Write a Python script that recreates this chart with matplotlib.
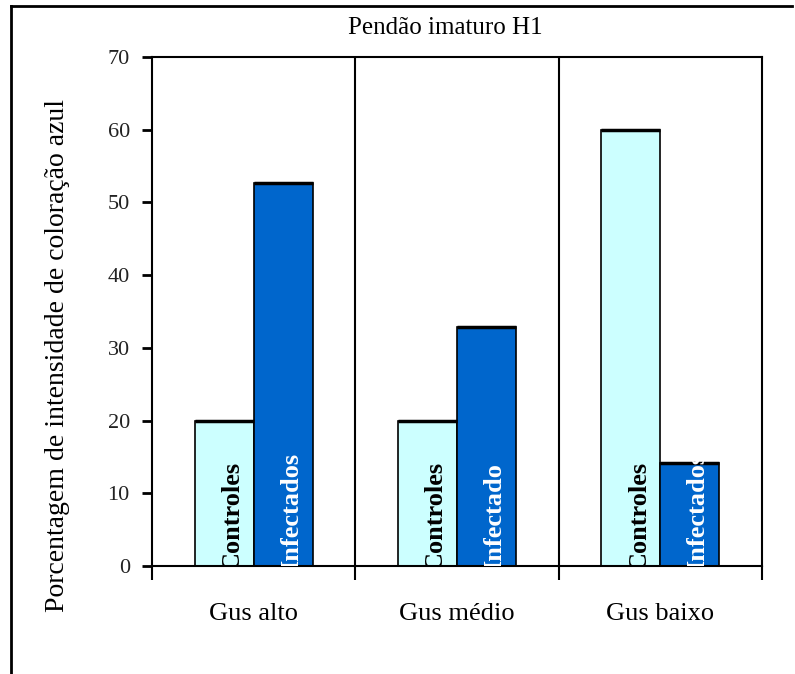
import matplotlib
matplotlib.use("Agg")
import matplotlib.pyplot as plt
from matplotlib.lines import Line2D
import numpy as np

# Data
categories = ["Gus alto", "Gus médio", "Gus baixo"]
controles = [20, 20, 60]
infectados = [52.7, 32.9, 14.2]
bar_labels_ctrl = ["Controles", "Controles", "Controles"]
bar_labels_inf = ["Infectados", "Infectado", "Infectados"]
yticks = [0, 10, 20, 30, 40, 50, 60, 70]
title = "Pendão imaturo H1"
ylabel = "Porcentagem de intensidade de coloração azul"

serif = ["Liberation Serif", "DejaVu Serif"]

W, H = 795, 674
fig = plt.figure(figsize=(W / 100, H / 100), dpi=100)
fig.patch.set_facecolor("white")

ax = fig.add_axes([152 / W, 1 - 566 / H, 610 / W, 509 / H])

centers = np.arange(len(categories)) + 0.5
bw = 0.29
x_c = centers - bw / 2
x_i = centers + bw / 2

ax.bar(x_c, controles, width=bw, color="#CCFFFF", edgecolor="black", linewidth=1.2, zorder=2)
ax.bar(x_i, infectados, width=bw, color="#0066CC", edgecolor="black", linewidth=1.2, zorder=2)
# heavier top edge on every bar
ax.hlines(controles, x_c - bw / 2, x_c + bw / 2, color="black", linewidth=2.5, zorder=3)
ax.hlines(infectados, x_i - bw / 2, x_i + bw / 2, color="black", linewidth=2.5, zorder=3)

# labels written inside the bars
off = 0.04
for xc, xi, lc, li in zip(x_c, x_i, bar_labels_ctrl, bar_labels_inf):
    ax.text(xc + off, -0.5, lc, rotation=90, ha="center", va="bottom",
            family=serif, fontsize=19, fontweight="bold", color="black",
            clip_on=True, zorder=4)
    ax.text(xi + off, -0.5, li, rotation=90, ha="center", va="bottom",
            family=serif, fontsize=19, fontweight="bold", color="white",
            clip_on=True, zorder=4)

# group separators
for xs in [1, 2]:
    ax.axvline(xs, color="black", linewidth=1.5, zorder=1)

ax.set_xlim(0, 3)
ax.set_ylim(0, 70)

for s in ax.spines.values():
    s.set_linewidth(1.5)
    s.set_color("black")

ax.set_yticks(yticks)
ax.set_yticklabels([str(v) for v in yticks], family=serif, fontsize=16, color="#222222")
ax.tick_params(axis="y", direction="out", length=7, width=2, pad=9)

ax.set_xticks([0, 1, 2, 3])
ax.set_xticklabels([])
ax.tick_params(axis="x", which="major", direction="out", length=10, width=1.5)
ax.set_xticks(centers, minor=True)
ax.set_xticklabels(categories, minor=True, family=serif, fontsize=19)
ax.tick_params(axis="x", which="minor", length=0, pad=27)

ax.set_ylabel(ylabel, family=serif, fontsize=20)
ax.yaxis.set_label_coords(-0.134, 0.413)

fig.text(445 / W, 1 - 28 / H, title, ha="center", va="center", family=serif, fontsize=18)

# outer frame (left and top edges)
fig.add_artist(Line2D([11 / W, 11 / W], [0, 1 - 6 / H], color="black", linewidth=2, transform=fig.transFigure))
fig.add_artist(Line2D([11 / W, 792 / W], [1 - 6 / H, 1 - 6 / H], color="black", linewidth=2, transform=fig.transFigure))

fig.savefig("out.png", dpi=100)
